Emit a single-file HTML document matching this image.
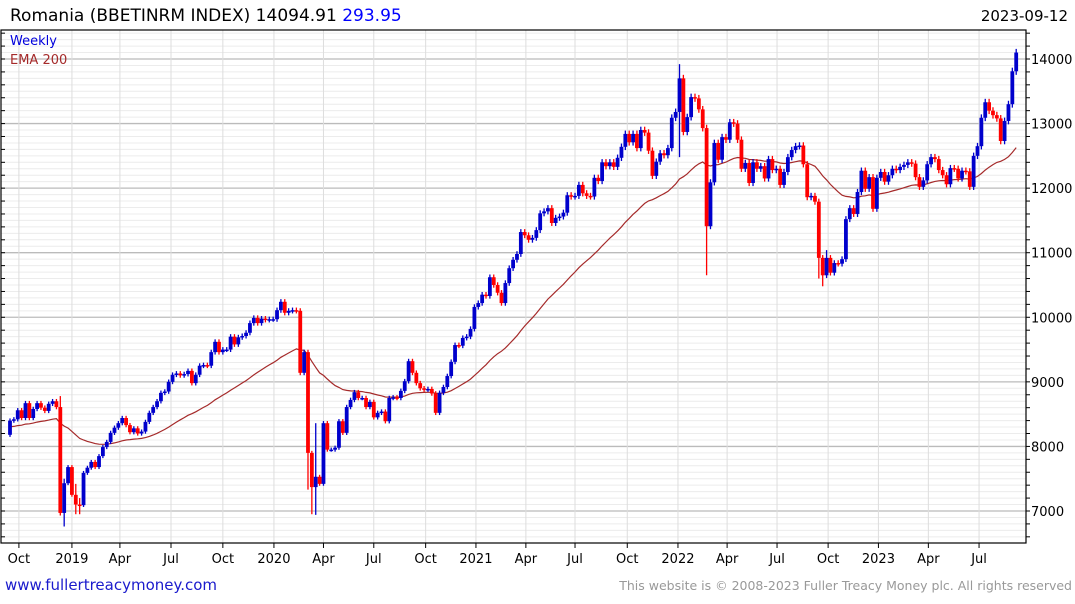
<!DOCTYPE html>
<html><head><meta charset="utf-8"><style>
body{margin:0;background:#fff;width:1075px;height:600px;overflow:hidden;font-family:"DejaVu Sans","Liberation Sans",sans-serif;}
svg text{font-family:"DejaVu Sans","Liberation Sans",sans-serif;}
</style></head><body>
<svg id="chart" width="1075" height="600" xmlns="http://www.w3.org/2000/svg">
<text x="10" y="21" font-size="17" fill="#000">Romania (BBETINRM INDEX) 14094.91 <tspan fill="#0000ff">293.95</tspan></text>
<text x="1068" y="21" font-size="15" fill="#000" text-anchor="end">2023-09-12</text>
<g id="grid"></g>
<g id="ema"></g>
<g id="candles"></g>
<rect x="1" y="30" width="1025" height="513" fill="none" stroke="#000" stroke-width="1.2"/>
<g id="axes"></g>
<text x="10" y="45" font-size="13" fill="#0000dd">Weekly</text>
<text x="10" y="64" font-size="13" fill="#a52a2a">EMA 200</text>
<text x="5" y="590" font-size="15" fill="#1a1acc">www.fullertreacymoney.com</text>
<text x="1072" y="590" font-size="12.5" fill="#999" text-anchor="end">This website is © 2008-2023 Fuller Treacy Money plc. All rights reserved</text>
</svg>
<script>
const closes=[8400,8420,8560,8440,8670,8440,8580,8670,8600,8550,8660,8700,8610,6970,7430,7680,7250,7100,7090,7590,
7670,7760,7680,7850,7990,8070,8210,8290,8360,8440,8330,8220,8280,8200,8230,8380,8520,8610,8700,8830,
8850,9000,9110,9130,9100,9120,9170,8980,9110,9250,9260,9250,9460,9620,9460,9500,9500,9700,9580,9690,
9710,9760,9910,9990,9910,9980,9960,9970,9970,10110,10240,10070,10100,10110,10100,9140,9460,7900,7370,7530,
7420,8360,7950,7950,7980,8390,8210,8610,8720,8840,8750,8750,8610,8690,8450,8520,8540,8390,8750,8760,
8750,8860,9010,9320,9140,8980,8900,8880,8890,8820,8520,8830,8920,9090,9310,9570,9560,9680,9700,9820,
10160,10220,10350,10330,10620,10500,10380,10220,10530,10760,10890,10980,11320,11270,11200,11230,11350,11610,11640,11690,
11460,11540,11560,11620,11890,11870,11880,12050,11920,11880,11870,12160,12110,12400,12340,12400,12330,12470,12640,12840,
12710,12840,12620,12900,12860,12580,12190,12410,12540,12510,12620,13090,13180,13700,12870,13100,13410,13390,13220,12930,
11410,12090,12700,12440,12790,12750,13020,13000,12750,12300,12390,12080,12400,12300,12340,12150,12450,12280,12300,12050,
12250,12480,12590,12650,12660,12370,11860,11880,11790,10920,10650,10920,10690,10840,10830,10900,11520,11690,11600,11940,
12270,11990,12170,11680,12160,12250,12100,12200,12300,12280,12330,12360,12400,12380,12170,12020,12120,12370,12480,12450,
12280,12200,12060,12310,12300,12150,12270,12260,12020,12500,12650,13090,13330,13200,13130,13080,12730,13040,13300,13810,14100];
const firstOpen=8180;
const spikeIdx=[13,14,17,18,77,78,79,173,180,209,210,211];
const spikeLow=[6930,6760,6950,6950,7330,6950,6940,12480,10650,10600,10480,10650];
const spikeHigh=[8780,7500,7420,7200,9480,7900,8360,13920,12200,11600,10950,11040];
const yTicks=[7000,8000,9000,10000,11000,12000,13000,14000];
const xLabels=["Oct","2019","Apr","Jul","Oct","2020","Apr","Jul","Oct","2021","Apr","Jul","Oct","2022","Apr","Jul","Oct","2023","Apr","Jul"];
const xLabelWeek=[2.3,16,28.4,41.6,55,68.2,81,94,107.4,120.4,133.3,146,159.5,172.6,185.3,198.2,211.4,224.4,237.3,250.4];
const emaSeed=8300;

const NS="http://www.w3.org/2000/svg";
const X0=10,DX=3.87,PL=1,PR=1026,PT=30,PB=543;
function xOf(i){return X0+i*DX;}
function yOf(p){return 59+(14000-p)*64.57/1000;}
function mk(tag,attrs,parent){const e=document.createElementNS(NS,tag);for(const k in attrs)e.setAttribute(k,attrs[k]);parent.appendChild(e);return e;}
const grid=document.getElementById('grid'),axes=document.getElementById('axes'),cg=document.getElementById('candles'),eg=document.getElementById('ema');
for(let p=6500;p<=14500;p+=100){const y=yOf(p);if(y<PT||y>PB)continue;
 const major=p%1000===0;
 const l=mk('line',{x1:PL,x2:PR,y1:y,y2:y,stroke:major?'#bbb':'#ececec','stroke-width':major?1.3:1},grid);
 
 
 if(p%200===0){const t=mk('line',{x1:PR,x2:PR+4,y1:y,y2:y,stroke:'#000'},axes);
  
  const t2=mk('line',{x1:PL,x2:PL+4,y1:y,y2:y,stroke:'#000'},axes);
  }
}
yTicks.forEach(v=>{const t=mk('text',{x:PR+5,y:yOf(v)+5,'font-size':13,fill:'#000'},axes);t.textContent=v;
 });
xLabels.forEach((s,k)=>{const x=xOf(xLabelWeek[k]);
 const l=mk('line',{x1:x,x2:x,y1:PT,y2:PB,stroke:'#ddd'},grid);
 
 const tk=mk('line',{x1:x,x2:x,y1:PB,y2:PB+5,stroke:'#000'},axes);
 
 const t=mk('text',{x:x,y:563,'font-size':13,fill:'#000','text-anchor':'middle'},axes);t.textContent=s;
 });
let ema=emaSeed;const a=2/41;let pts=[];
closes.forEach((c,i)=>{ema=ema+a*(c-ema);pts.push(xOf(i).toFixed(1)+','+yOf(ema).toFixed(1));});
const pl=mk('polyline',{points:pts.join(' '),fill:'none',stroke:'#a52a2a','stroke-width':1.2},eg);

closes.forEach((c,i)=>{const o=i===0?firstOpen:closes[i-1];
 let hi=Math.max(o,c)*1.004,lo=Math.min(o,c)*0.996;
 const s=spikeIdx.indexOf(i);if(s>=0){hi=Math.max(hi,spikeHigh[s]);lo=Math.min(lo,spikeLow[s]);}
 const col=c>=o?'#0000cc':'#ff0000';const x=xOf(i);
 const w=mk('line',{x1:x,x2:x,y1:yOf(hi),y2:yOf(lo),stroke:col,'stroke-width':1.3},cg);
 
 const yt=yOf(Math.max(o,c)),yb=yOf(Math.min(o,c));
 const b=mk('rect',{x:x-1.9,y:yt,width:3.8,height:Math.max(1.5,yb-yt),fill:col},cg);
 
});
</script>
</body></html>
